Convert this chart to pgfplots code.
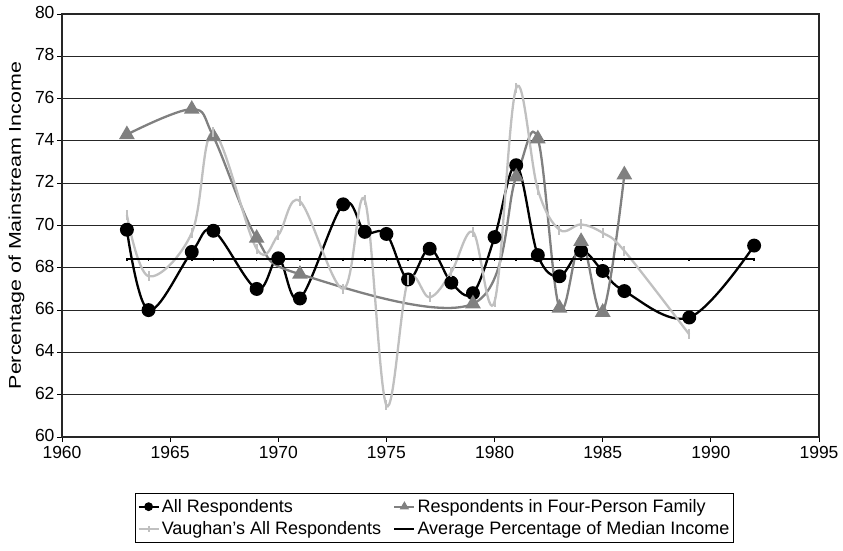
\documentclass[border=0pt]{standalone}
\usepackage{fontspec}
\setmainfont{Liberation Sans}
\usepackage{pgfplots}
\pgfplotsset{compat=1.18}
\definecolor{midgray}{RGB}{128,128,128}
\definecolor{ltgray}{RGB}{192,192,192}
\begin{document}
\begin{tikzpicture}[font=\fontsize{18}{21}\selectfont]
\path[use as bounding box] (-62pt,-114pt) rectangle (781pt,437pt);
\begin{axis}[
  at={(0pt,0pt)}, anchor=south west,
  scale only axis, width=757pt, height=423pt,
  xmin=1960, xmax=1995, ymin=60, ymax=80,
  xtick={1960,1965,...,1995}, ytick={60,62,...,80},
  /pgf/number format/1000 sep={},
  /pgf/number format/assume math mode=true,
  tick label style={font=\fontsize{17.5}{20}\selectfont},
  yticklabel style={xshift=1pt, yshift=1.5pt},
  xticklabel style={yshift=-1pt},
  tick align=outside, xtick pos=bottom, ytick pos=left,
  major tick length=5pt,
  tick style={black, line width=0.8pt},
  axis line style={black!85, line width=1.3pt},
  ymajorgrids, grid style={black!85, line width=0.9pt},
  ylabel={\fontsize{17}{20}\selectfont\scalebox{1.26}[1]{Percentage of Mainstream Income}},
  ylabel style={at={(axis description cs:-0.060,0.5)}, anchor=center},
  legend columns=2, legend cell align=left,
  legend style={at={(axis description cs:0.492,-0.1324)}, anchor=north,
    draw=black, line width=0.8pt, inner xsep=2pt, inner ysep=4pt, row sep=4pt,
    /tikz/every even column/.append style={column sep=10pt}},
  legend image code/.code={\draw[mark repeat=2,mark phase=2,mark size=3.2pt] plot coordinates {(0pt,0pt) (10pt,0pt) (20pt,0pt)};},
  every axis plot/.append style={line width=2.3pt},
]
\addplot[black, smooth, tension=0.6, mark=*, mark size=5.8pt, mark options={solid}] coordinates {
(1963,69.8) (1964,66.0) (1966,68.75) (1967,69.75) (1969,67.0) (1970,68.45) (1971,66.55)
(1973,71.0) (1974,69.7) (1975,69.6) (1976,67.45) (1977,68.9) (1978,67.3) (1979,66.8)
(1980,69.45) (1981,72.85) (1982,68.6) (1983,67.6) (1984,68.8) (1985,67.85) (1986,66.9)
(1989,65.65) (1992,69.05)};
\addlegendentry{All Respondents}
\addplot[midgray, smooth, tension=0.6, mark=triangle*, mark size=6.8pt, mark options={solid}] coordinates {
(1963,74.3) (1966,75.5) (1967,74.2) (1969,69.4) (1971,67.7) (1979,66.3) (1981,72.3)
(1982,74.1) (1983,66.1) (1984,69.25) (1985,65.9) (1986,72.4)};
\addlegendentry{Respondents in Four-Person Family}
\addplot[ltgray, smooth, tension=0.6, mark=|, mark size=5pt, mark options={solid, line width=2pt}] coordinates {
(1963,70.5) (1964,67.6) (1966,69.65) (1967,74.4) (1969,68.9) (1970,69.55) (1971,71.15)
(1973,67.0) (1974,71.2) (1975,61.5) (1976,67.4) (1977,66.6) (1978,67.8) (1979,69.7)
(1980,66.4) (1981,76.5) (1982,71.7) (1983,69.8) (1984,70.05) (1985,69.65) (1986,68.8)
(1989,64.85)};
\addlegendentry{Vaughan's All Respondents}
\addplot[black, mark=|, mark size=1.5pt, mark options={solid, line width=1.5pt},
  legend image post style={mark=none}] coordinates {
(1963,68.4) (1964,68.4) (1966,68.4) (1967,68.4) (1969,68.4) (1970,68.4) (1971,68.4)
(1973,68.4) (1974,68.4) (1975,68.4) (1976,68.4) (1977,68.4) (1978,68.4) (1979,68.4)
(1980,68.4) (1981,68.4) (1982,68.4) (1983,68.4) (1984,68.4) (1985,68.4) (1986,68.4)
(1989,68.4) (1992,68.4)};
\addlegendentry{Average Percentage of Median Income}
\end{axis}
\end{tikzpicture}
\end{document}
